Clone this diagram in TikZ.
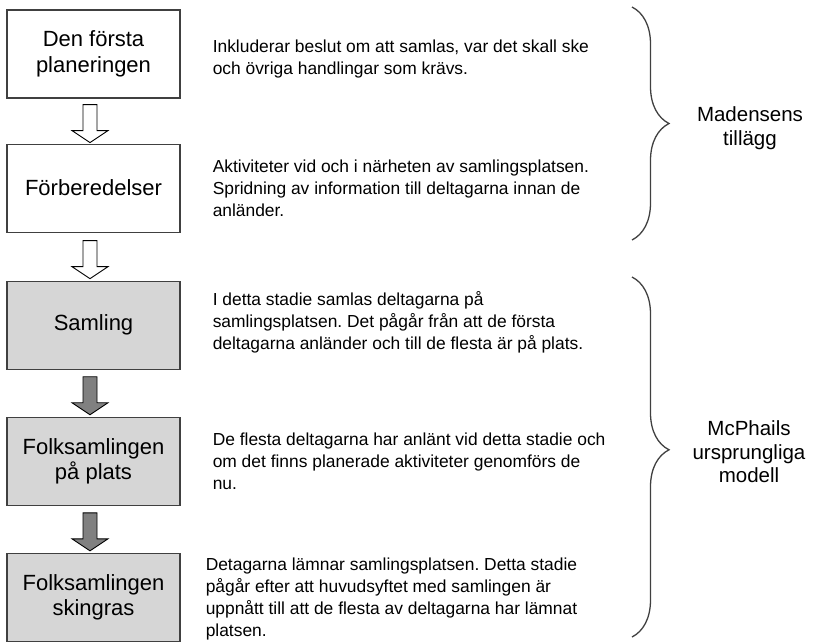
\documentclass[tikz,border=0pt]{standalone}
\usepackage{fontspec}
\setmainfont{Liberation Sans}
\usepackage{tikz}
\usetikzlibrary{positioning,calc,decorations.pathreplacing}
\usepackage{xcolor}
\definecolor{stagegray}{HTML}{D6D6D6}
\definecolor{arrowgray}{HTML}{808080}
\definecolor{linegray}{HTML}{404040}
\frenchspacing

\tikzset{
  blockarrow/.pic={
    \draw[pic actions] (-7,0) -- (-7,-26) -- (-18,-26) -- (0,-38) -- (18,-26) -- (7,-26) -- (7,0) -- cycle;
  }
}

\begin{document}
\begin{tikzpicture}[
    x=1pt, y=1pt,
    stage/.style={draw=linegray, line width=1.1pt, fill=white, minimum width=173pt, minimum height=88pt, align=center, inner sep=0pt, font=\fontsize{22}{25.5}\selectfont},
    oldstage/.style={stage, fill=stagegray},
    desc/.style={anchor=west, align=left, inner sep=0pt, font=\fontsize{17.4}{22.3}\selectfont},
    openarrow/.style={draw=black, line width=0.9pt, fill=white},
    shadearrow/.style={draw=black, line width=0.9pt, fill=arrowgray},
    brace/.style={draw=linegray, line width=1.3pt, decorate, decoration={brace, amplitude=37pt}},
    group/.style={align=center, inner sep=0pt, font=\fontsize{20.5}{23.5}\selectfont}
]
\useasboundingbox (0,0) rectangle (817,-641);

% Madsens added stages
\node[stage] (plan) at (93.5,-54) {Den första\\planeringen};
\node[stage, below=45pt of plan] (prep) {Förberedelser};

% McPhail's original model
\node[oldstage, below=48pt of prep] (samling) {Samling};
\node[oldstage, below=47pt of samling] (plats) {Folksamlingen\\på plats};
\node[oldstage, below=47pt of plats] (skingras) {Folksamlingen\\skingras};

% Arrows between stages
\pic[openarrow] at ($(plan.south)+(-3.5,-6)$) {blockarrow};
\pic[openarrow] at ($(prep.south)+(-3.5,-8)$) {blockarrow};
\pic[shadearrow] at ($(samling.south)+(-3.5,-7)$) {blockarrow};
\pic[shadearrow] at ($(plats.south)+(-3.5,-7)$) {blockarrow};

% Descriptions
\node[desc, right=32pt of plan, yshift=-5pt] (planText) {Inkluderar beslut om att samlas, var det skall ske\\och övriga handlingar som krävs.};
\node[desc, right=32pt of prep] (prepText) {Aktiviteter vid och i närheten av samlingsplatsen.\\Spridning av information till deltagarna innan de\\anländer.};
\node[desc, right=32pt of samling, yshift=3pt] (samlingText) {I detta stadie samlas deltagarna på\\samlingsplatsen. Det pågår från att de första\\deltagarna anländer och till de flesta är på plats.};
\node[desc, right=32pt of plats] (platsText) {De flesta deltagarna har anlänt vid detta stadie och\\om det finns planerade aktiviteter genomförs de\\nu.};
\node[desc, right=25pt of skingras, yshift=-2pt, font=\fontsize{17.4}{22}\selectfont] (skingrasText) {Detagarna lämnar samlingsplatsen. Detta stadie\\pågår efter att huvudsyftet med samlingen är\\uppnått till att de flesta av deltagarna har lämnat\\platsen.};

% Braces
\coordinate (madTop) at (632,-7);
\coordinate (madBot) at (632,-240);
\coordinate (mcTop) at (632,-277);
\coordinate (mcBot) at (632,-637);
\draw[brace] (madTop) -- (madBot);
\draw[brace, decoration={aspect=0.48}] (mcTop) -- (mcBot);

\node[group] (madLabel) at (750,-128) {Madensens\\tillägg};
\node[group] (mcLabel) at (749,-452) {McPhails\\ursprungliga\\modell};
\end{tikzpicture}
\end{document}
